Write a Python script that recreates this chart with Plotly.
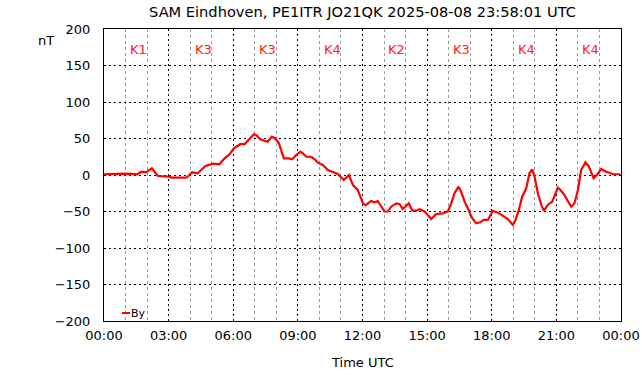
import pandas as pd
import plotly.graph_objects as go

# ---- data ----
hours = [0.0, 0.3, 0.7, 1.0, 1.3, 1.55, 1.73, 1.96, 2.22, 2.5, 2.8, 3.04, 3.15, 3.5, 3.8, 3.89,
         4.09, 4.35, 4.71, 5.05, 5.36, 5.6, 5.83, 6.03, 6.14, 6.34, 6.52, 6.75, 6.96, 7.07, 7.25,
         7.45, 7.6, 7.79, 7.96, 8.12, 8.23, 8.35, 8.58, 8.74, 8.92, 9.12, 9.23, 9.39, 9.62, 9.77,
         9.93, 10.16, 10.39, 10.62, 10.85, 11.13, 11.37, 11.55, 11.78, 12.03, 12.17, 12.4, 12.56,
         12.71, 12.87, 13.02, 13.18, 13.33, 13.57, 13.72, 13.87, 14.15, 14.31, 14.49, 14.65, 14.88,
         15.03, 15.19, 15.42, 15.73, 15.96, 16.12, 16.27, 16.46, 16.58, 16.74, 16.89, 17.05, 17.28,
         17.47, 17.62, 17.82, 18.05, 18.28, 18.51, 18.75, 18.98, 19.1, 19.26, 19.41, 19.6, 19.75,
         19.88, 19.99, 20.14, 20.3, 20.42, 20.6, 20.81, 20.96, 21.07, 21.19, 21.38, 21.53, 21.69,
         21.84, 22.0, 22.15, 22.35, 22.51, 22.73, 22.88, 23.08, 23.31, 23.62, 23.97]
by_nT = [1, 1.5, 1.2, 1.8, 1.5, 1, 4.5, 3.7, 9.2, -1.4, -2, -2.3, -3.7, -3.9, -3.7, -2.3,
         3.7, 2.3, 12.3, 15.5, 14.6, 22.8, 28.3, 36.5, 38.8, 42.5, 42, 48.9, 55.7, 54.8, 48.9,
         47, 45.6, 52.5, 49.7, 43.4, 31.9, 22.8, 22.8, 21.5, 27.4, 31.9, 29.7, 25, 25, 21.9,
         16.9, 13.7, 6.8, 3.7, 1.4, -6.8, 0, -13.7, -20.5, -39.5, -41, -35.6, -37.4,
         -35.6, -43.4, -50, -50, -43.4, -38.8, -40, -46.6, -38.8, -48.9, -48.9, -47, -50,
         -54.8, -60.3, -53.4, -52.5, -50, -38.8, -25, -16, -22.8, -36.5, -45.6, -57, -66.2,
         -64.8, -61.6, -61.6, -49, -51.6, -55.7, -60.3, -68.5, -61.6, -47.9, -29.7, -18.3, 2.3,
         7.8, -2.3, -25, -41, -48.9, -41, -36.5, -25, -17.4, -20.5, -27.4, -35.6, -43.4,
         -38.8, -20.5, 6.8, 17.4, 11.4, -4.5, 0, 8.2, 4.5, 1.4, 1]
k_labels = ["K1", "K3", "K3", "K4", "K2", "K3", "K4", "K4"]
y_ticks = [-200, -150, -100, -50, 0, 50, 100, 150, 200]
day_start = "2025-08-08 00:00"
day_end = "2025-08-09 00:00"

base = pd.Timestamp(day_start)
times = [base + pd.Timedelta(hours=h) for h in hours]
k_times = [base + pd.Timedelta(hours=3 * i + 1.6) for i in range(len(k_labels))]

FONT = "DejaVu Sans"
fig = go.Figure()
fig.add_trace(go.Scatter(x=times, y=by_nT, mode="lines", name="By",
                         line=dict(color="#ff0000", width=2.2), showlegend=False))

for kt, kl in zip(k_times, k_labels):
    fig.add_annotation(x=kt, y=172, xref="x", yref="y", text=kl, showarrow=False,
                       font=dict(family=FONT, size=13, color="#ff2020"))

L, R, T, B = 104, 21, 29, 55
W, H = 642, 376
pw, ph = W - L - R, H - T - B

def px(xp):
    return (xp - L) / pw

def py(yp):
    return (H - B - yp) / ph

fig.add_annotation(x=px(46), y=py(40), xref="paper", yref="paper", text="nT",
                   xanchor="center", yanchor="middle", showarrow=False,
                   font=dict(family=FONT, size=13, color="black"))
fig.add_annotation(x=0.5, y=py(362), xref="paper", yref="paper", text="Time UTC",
                   xanchor="center", yanchor="middle", showarrow=False,
                   font=dict(family=FONT, size=13, color="black"))
# legend key
fig.add_shape(type="line", xref="paper", yref="paper", x0=px(122), x1=px(130),
              y0=py(313), y1=py(313), line=dict(color="#ff0000", width=2))
fig.add_annotation(x=px(129), y=py(313), xref="paper", yref="paper", text="By",
                   xanchor="left", yanchor="middle", showarrow=False,
                   font=dict(family=FONT, size=11, color="black"))

fig.update_layout(
    width=W, height=H,
    margin=dict(l=L, r=R, t=T, b=B, autoexpand=False),
    paper_bgcolor="white", plot_bgcolor="white",
    font=dict(family=FONT, size=13, color="black"),
    title=dict(text="SAM Eindhoven, PE1ITR JO21QK 2025-08-08 23:58:01 UTC",
               x=362.5 / W, xanchor="center", y=1 - 12 / H, yanchor="middle",
               font=dict(family=FONT, size=14.6, color="black")),
    showlegend=False,
)
fig.update_xaxes(type="date", range=[day_start, day_end], tick0=day_start,
                 dtick=3 * 3600000, tickformat="%H:%M",
                 showgrid=True, gridcolor="black", gridwidth=1, griddash="2px,3px",
                 minor=dict(dtick=3600000, showgrid=True, gridcolor="#9a9a9a",
                            gridwidth=1, griddash="3px,3px"),
                 showline=True, linecolor="black", linewidth=1, mirror=True,
                 ticks="", ticklabelstandoff=2, zeroline=False, automargin=False,
                 tickfont=dict(family=FONT, size=13, color="black"))
fig.update_yaxes(range=[-200, 200], tickvals=y_ticks,
                 showgrid=True, gridcolor="black", gridwidth=1, griddash="2px,3px",
                 showline=True, linecolor="black", linewidth=1, mirror=True,
                 ticks="", ticklabelstandoff=10, zeroline=False, automargin=False,
                 tickfont=dict(family=FONT, size=13, color="black"))

fig.write_html("out.html", config={"displayModeBar": False},
               post_script="document.body.style.margin='0';document.body.style.overflow='hidden';")
